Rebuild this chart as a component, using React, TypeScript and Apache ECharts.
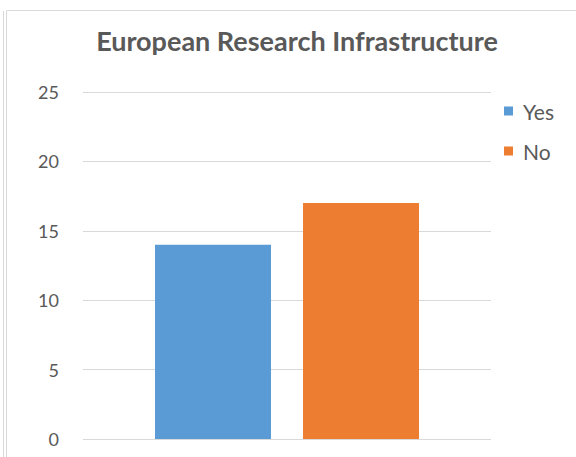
import React, { useEffect, useRef } from "react";
import * as echarts from "echarts";

const categories = ["European Research Infrastructure"];
const seriesNames = ["Yes", "No"];
const yesValues = [14];
const noValues = [17];
const colors = ["#5B9BD5", "#ED7D31"];
const yTicks = { min: 0, max: 25, interval: 5 };

export default function App() {
  const ref = useRef<HTMLDivElement>(null);
  useEffect(() => {
    document.body.style.margin = "0";
    const chart = echarts.init(ref.current!, null, { renderer: "svg" });
    const font = "Lato, 'Open Sans', sans-serif";
    chart.setOption({
      animation: false,
      backgroundColor: "#ffffff",
      title: {
        text: "European Research Infrastructure",
        left: 297,
        textAlign: "center",
        top: 27,
        padding: 0,
        textStyle: { fontFamily: font, fontSize: 27, fontWeight: "bold", color: "#595959" },
      },
      legend: {
        orient: "vertical",
        left: 504,
        top: 100,
        padding: 0,
        itemWidth: 9,
        itemHeight: 9,
        itemGap: 18,
        icon: "rect",
        data: seriesNames,
        textStyle: { fontFamily: font, fontSize: 21, color: "#595959", lineHeight: 22, padding: [0, 0, 0, 5] },
      },
      grid: { left: 83, right: 85, top: 92, bottom: 18, containLabel: false },
      xAxis: {
        type: "category",
        data: categories,
        axisLine: { show: false },
        axisTick: { show: false },
        axisLabel: { show: false },
      },
      yAxis: {
        type: "value",
        min: yTicks.min,
        max: yTicks.max,
        interval: yTicks.interval,
        axisLine: { show: false },
        axisTick: { show: false },
        axisLabel: { fontFamily: font, fontSize: 18, color: "#595959", margin: 24 },
        splitLine: { lineStyle: { color: "#d9d9d9", width: 1 } },
      },
      series: [
        { name: seriesNames[0], type: "bar", data: yesValues, barWidth: 116, barGap: "27.6%", itemStyle: { color: colors[0] } },
        { name: seriesNames[1], type: "bar", data: noValues, barWidth: 116, barGap: "27.6%", itemStyle: { color: colors[1] } },
      ],
      graphic: [
        { type: "line", shape: { x1: 3.5, y1: 11, x2: 3.5, y2: 457 }, style: { stroke: "#d9d9d9", lineWidth: 1 } },
        { type: "line", shape: { x1: 6.5, y1: 11, x2: 6.5, y2: 457 }, style: { stroke: "#d9d9d9", lineWidth: 1 } },
        { type: "line", shape: { x1: 6.5, y1: 10.5, x2: 576, y2: 10.5 }, style: { stroke: "#d9d9d9", lineWidth: 1 } },
      ],
    });
    return () => chart.dispose();
  }, []);
  return <div ref={ref} style={{ width: 576, height: 457 }} />;
}
